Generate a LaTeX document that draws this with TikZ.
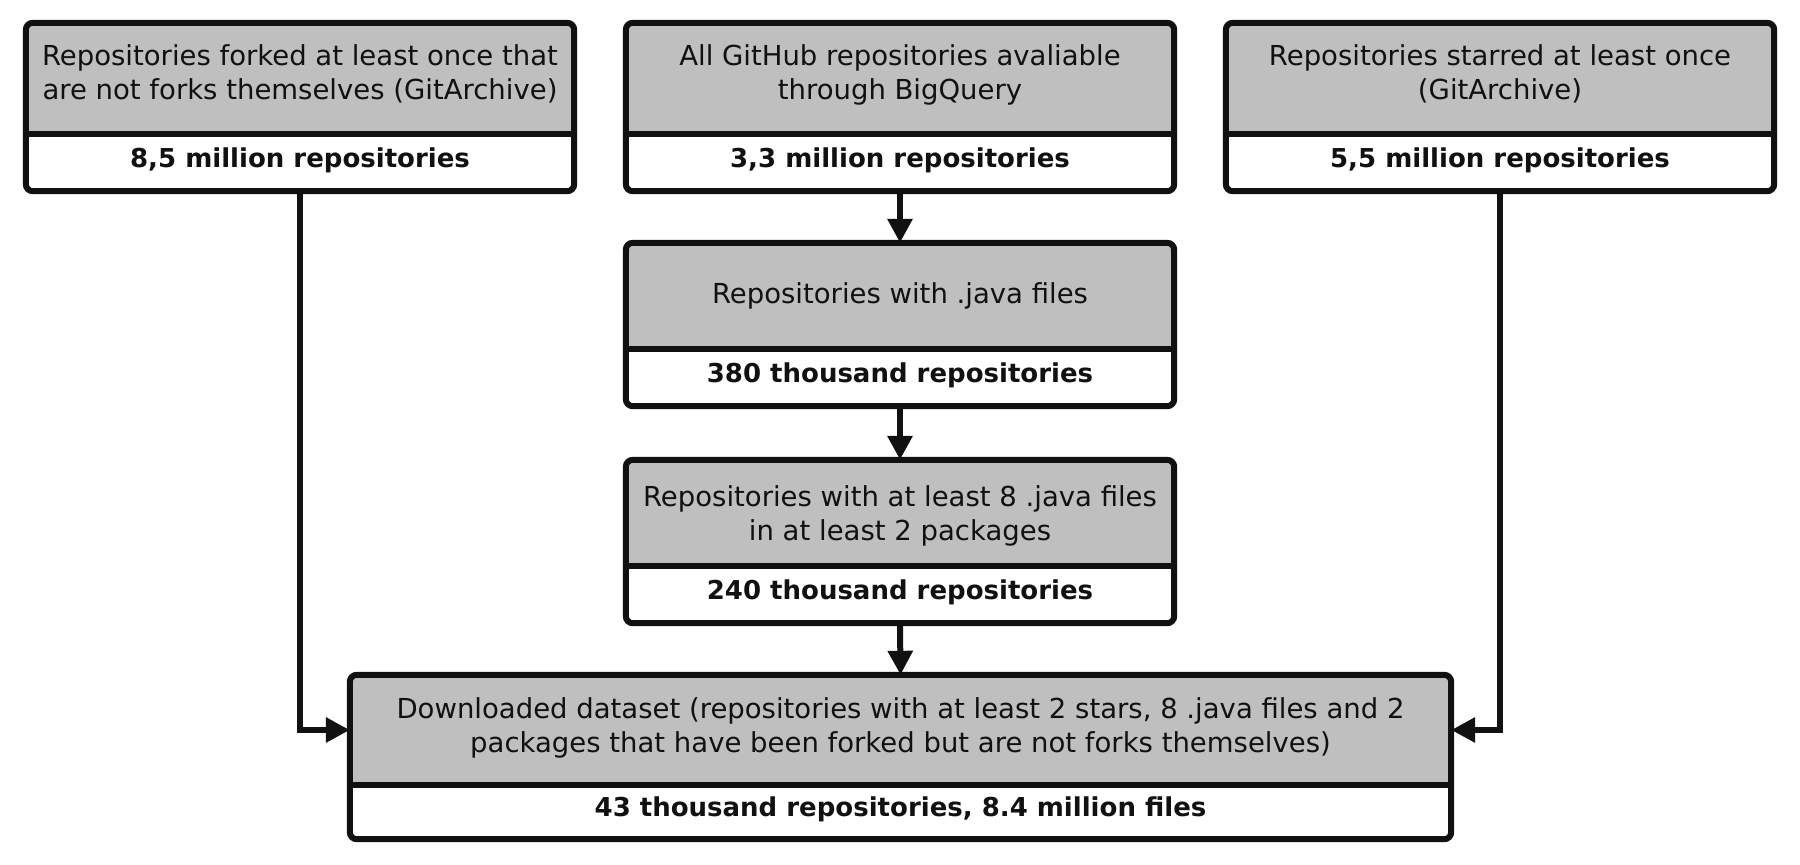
\documentclass[tikz,border=0pt]{standalone}
\usepackage{fontspec}
\setmainfont{DejaVu Sans}
\usetikzlibrary{arrows.meta}
\definecolor{boxgray}{HTML}{BFBFBF}
\definecolor{ink}{HTML}{111111}
\tikzset{
  graypart/.style={rectangle, fill=boxgray, inner sep=0pt, align=center, text=ink,
    font=\fontsize{27.5}{34}\selectfont},
  whitepart/.style={rectangle, fill=white, inner sep=0pt, align=center, text=ink,
    font=\fontsize{26}{34}\selectfont\bfseries, text depth=10pt},
  frame/.style={draw=ink, line width=6pt, rounded corners=7pt},
  divider/.style={draw=ink, line width=6pt},
  conn/.style={draw=ink, line width=6pt, -{Triangle[length=24pt,width=24pt]}},
}
\begin{document}
\begin{tikzpicture}[x=1pt,y=-1pt]
\useasboundingbox (0,0) rectangle (1800,865);
% top row
\node[graypart, minimum width=548pt, minimum height=111pt, text depth=12pt] (g1) at (300,78.5)
  {Repositories forked at least once that\\are not forks themselves (GitArchive)};
\node[whitepart, minimum width=548pt, minimum height=57pt] (w1) at (300,162.5)
  {8,5 million repositories};
\node[graypart, minimum width=548pt, minimum height=111pt, text depth=12pt] (g2) at (900,78.5)
  {All GitHub repositories avaliable\\through BigQuery};
\node[whitepart, minimum width=548pt, minimum height=57pt] (w2) at (900,162.5)
  {3,3 million repositories};
\node[graypart, minimum width=548pt, minimum height=111pt, text depth=12pt] (g3) at (1500,78.5)
  {Repositories starred at least once\\(GitArchive)};
\node[whitepart, minimum width=548pt, minimum height=57pt] (w3) at (1500,162.5)
  {5,5 million repositories};
% middle column
\node[graypart, minimum width=548pt, minimum height=106pt] (g4) at (900,296)
  {Repositories with .java files};
\node[whitepart, minimum width=548pt, minimum height=57pt] (w4) at (900,377.5)
  {380 thousand repositories};
\node[graypart, minimum width=548pt, minimum height=106pt, text height=61pt] (g5) at (900,513)
  {Repositories with at least 8 .java files\\in at least 2 packages};
\node[whitepart, minimum width=548pt, minimum height=57pt] (w5) at (900,594.5)
  {240 thousand repositories};
% bottom
\node[graypart, minimum width=1101pt, minimum height=110pt, text depth=9pt] (g6) at (900.5,730)
  {Downloaded dataset (repositories with at least 2 stars, 8 .java files and 2\\packages that have been forked but are not forks themselves)};
\node[whitepart, minimum width=1101pt, minimum height=54pt] (w6) at (900.5,812)
  {43 thousand repositories, 8.4 million files};
% frames and dividers
\foreach \i in {1,...,6}{
  \draw[frame] (g\i.north west) rectangle (w\i.south east);
  \draw[divider] (g\i.south west) -- (g\i.south east);
}
% connectors
\draw[conn] (w2.south) -- (g4.north);
\draw[conn] (w4.south) -- (g5.north);
\draw[conn] (w5.south) -- (g6.north);
\draw[conn] (w1.south) |- (g6.west);
\draw[conn] (w3.south) |- (g6.east);
\end{tikzpicture}
\end{document}
